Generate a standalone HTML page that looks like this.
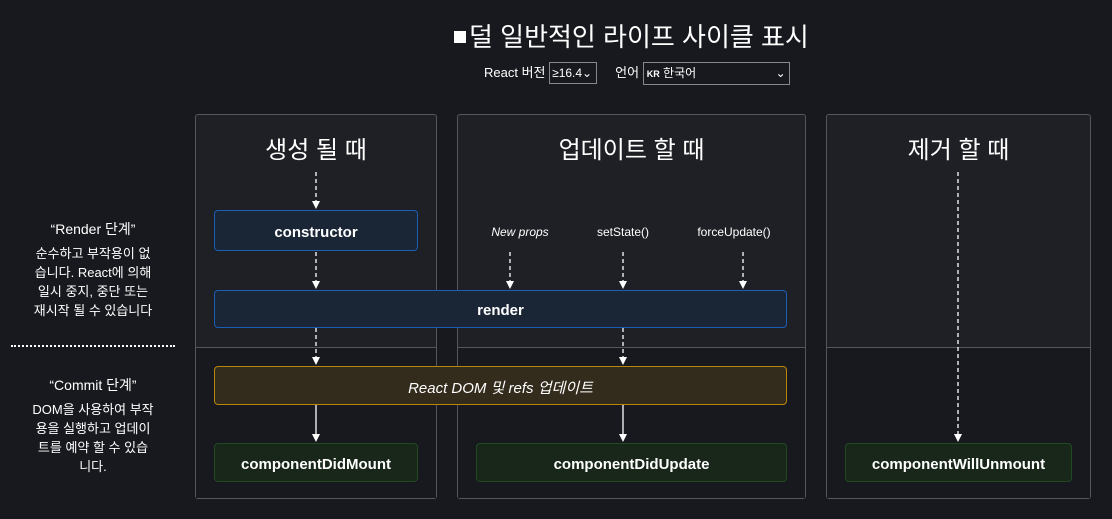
<!DOCTYPE html><html><head><meta charset="utf-8"><style>
body{margin:0;width:1112px;height:519px;background:#18191e;font-family:"Liberation Sans","Noto Sans CJK KR",sans-serif;color:#fff;position:relative;overflow:hidden}
.a{position:absolute}
.panel{position:absolute;top:114px;height:385px;border:1px solid #55565c;border-radius:3px;background:#1f2025;box-sizing:border-box}
.low{position:absolute;left:0;right:0;top:232px;bottom:0;border-top:1px solid #55565c;background:#18191e}
.ct{position:absolute;top:130px;font-size:24px;text-align:center}
.box{position:absolute;box-sizing:border-box;border-radius:4px;display:flex;align-items:center;justify-content:center;font-weight:bold;font-size:15px;padding-top:3px}
.bl{background:#1a2536;border:1px solid #1a5fb4}
.gr{background:#18271a;border:1px solid #1f4a22}
.or{background:#332b1c;border:1px solid #b8860b;font-weight:normal;font-style:italic}
.lt{position:absolute;text-align:center;font-size:13px;line-height:19px;width:160px;left:13px;white-space:nowrap}
.lbl{position:absolute;top:225px;font-size:12px;transform:translateX(-50%)}
</style></head><body>
<div class="a" style="left:454px;top:17px;font-size:26px;white-space:nowrap"><span style="display:inline-block;width:12px;height:12px;background:#fff;vertical-align:middle;margin-right:3px;position:relative;top:-2px"></span>덜 일반적인 라이프 사이클 표시</div>
<div class="a" style="left:484px;top:62px;font-size:13px;white-space:nowrap;line-height:20px">React 버전 <span style="display:inline-block;box-sizing:border-box;border:1px solid #888;width:48px;padding:0 2px;font-size:12px">≥16.4⌄</span>&nbsp;&nbsp;&nbsp;&nbsp; 언어 <span style="display:inline-block;box-sizing:border-box;border:1px solid #888;width:147px;padding:0 3px;font-size:12px"><b style="font-size:9px">KR</b> 한국어<span style="float:right">⌄</span></span></div>

<div class="panel" style="left:195px;width:242px"><div class="low"></div></div>
<div class="panel" style="left:457px;width:349px"><div class="low"></div></div>
<div class="panel" style="left:826px;width:265px"><div class="low"></div></div>
<div class="ct" style="left:195px;width:242px">생성 될 때</div>
<div class="ct" style="left:457px;width:349px">업데이트 할 때</div>
<div class="ct" style="left:826px;width:265px">제거 할 때</div>

<div class="lt" style="top:220px;font-size:14px">“Render 단계”</div>
<div class="lt" style="top:244px">순수하고 부작용이 없<br>습니다. React에 의해<br>일시 중지, 중단 또는<br>재시작 될 수 있습니다</div>
<div class="a" style="left:11px;top:345px;width:164px;border-top:2px dotted #fff"></div>
<div class="lt" style="top:376px;font-size:14px">“Commit 단계”</div>
<div class="lt" style="top:400px">DOM을 사용하여 부작<br>용을 실행하고 업데이<br>트를 예약 할 수 있습<br>니다.</div>

<svg class="a" style="left:0;top:0" width="1112" height="519">
<g stroke="#fff" stroke-width="1.3" fill="none">
<line x1="316" y1="172" x2="316" y2="201" stroke-dasharray="4,3"/>
<line x1="316" y1="252" x2="316" y2="281" stroke-dasharray="4,3"/>
<line x1="316" y1="328" x2="316" y2="357" stroke-dasharray="4,3"/>
<line x1="316" y1="405" x2="316" y2="434"/>
<line x1="510" y1="252" x2="510" y2="281" stroke-dasharray="4,3"/>
<line x1="623" y1="252" x2="623" y2="281" stroke-dasharray="4,3"/>
<line x1="743" y1="252" x2="743" y2="281" stroke-dasharray="4,3"/>
<line x1="623" y1="328" x2="623" y2="357" stroke-dasharray="4,3"/>
<line x1="623" y1="405" x2="623" y2="434"/>
<line x1="958" y1="172" x2="958" y2="434" stroke-dasharray="4,3"/>
</g>
<g fill="#fff">
<path d="M312,201h8l-4,8z"/><path d="M312,281h8l-4,8z"/><path d="M312,357h8l-4,8z"/><path d="M312,434h8l-4,8z"/>
<path d="M506,281h8l-4,8z"/><path d="M619,281h8l-4,8z"/><path d="M739,281h8l-4,8z"/>
<path d="M619,357h8l-4,8z"/><path d="M619,434h8l-4,8z"/><path d="M954,434h8l-4,8z"/>
</g></svg>

<div class="lbl" style="left:520px;font-style:italic">New props</div>
<div class="lbl" style="left:623px">setState()</div>
<div class="lbl" style="left:734px">forceUpdate()</div>

<div class="box bl" style="left:214px;top:210px;width:204px;height:41px">constructor</div>
<div class="box bl" style="left:214px;top:290px;width:573px;height:38px">render</div>
<div class="box or" style="left:214px;top:366px;width:573px;height:39px">React DOM 및 refs 업데이트</div>
<div class="box gr" style="left:214px;top:443px;width:204px;height:39px">componentDidMount</div>
<div class="box gr" style="left:476px;top:443px;width:311px;height:39px">componentDidUpdate</div>
<div class="box gr" style="left:845px;top:443px;width:227px;height:39px">componentWillUnmount</div>
</body></html>
